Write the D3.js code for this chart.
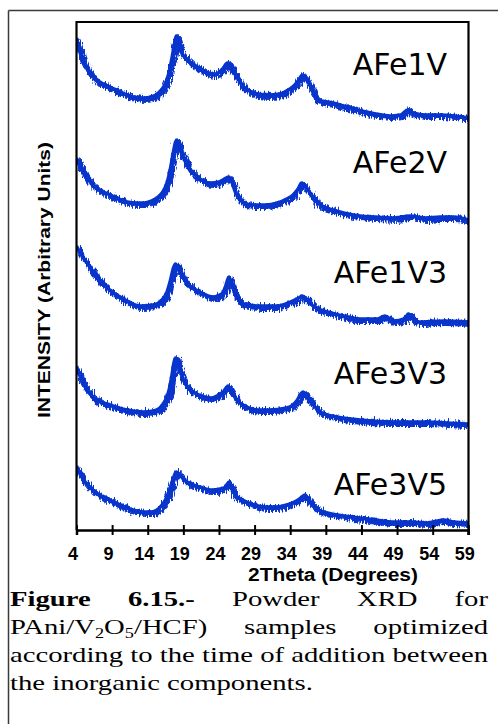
<!DOCTYPE html>
<html><head><meta charset="utf-8">
<script src="https://cdn.jsdelivr.net/npm/d3@7"></script>
<style>body{margin:0;background:#fff}svg{display:block}</style>
</head><body>
<svg id="chart" width="498" height="724"></svg>
<script>
// ---------------- DATA ----------------
const tickValues = [4, 9, 14, 19, 24, 29, 34, 39, 44, 49, 54, 59];
const seriesNames = ["AFe1V", "AFe2V", "AFe1V3", "AFe3V3", "AFe3V5"];

// 2-theta (degrees) and stacked intensity (arbitrary units) for each pattern
const theta1 = [4,4.6,5.4,6.5,7.5,9,10.5,12,13.5,14.5,15.5,16.3,16.9,17.4,17.8,18.0,18.3,18.7,19.5,20.5,21.5,22.5,23.5,24.5,25.2,25.6,26.0,26.6,27.3,28.3,29.5,31,32.5,33.5,34.5,35.2,35.7,36.2,36.7,37.3,38,40,42,44,46,48,49.5,50.5,51.3,53,55,57,59];
const afe1v  = [492,475,462,452,447,442,437,433,432,433,437,444,455,472,488,494,486,478,471,465,461,457,456,461,467,466,459,452,444,439,436,435,436,439,444,450,455,453,446,436,430,427,423,419,416,414,415,420,417,415,415,414,412];

const theta2 = [4,4.6,5.3,6.3,7.5,8.7,10,11.1,12.5,13.5,14.5,15.3,16,16.7,17.2,17.6,17.9,18.1,18.4,18.8,19.4,20,21,21.8,23,24,25,25.4,25.8,26.3,27,27.8,29,30.5,32.2,33.5,34.4,35.1,35.6,36.2,36.8,37.6,38.5,40,41.5,43.8,46,48.5,50.8,53,55,57,59];
const afe2v  = [372,362,354,345,339,335,331,328,327,327,329,332,337,347,362,378,388,390,383,376,367,360,353,349,347,348,352,353,348,338,330,326,325,325,327,331,335,341,347,343,337,329,324,320,317,314,313,312,314,312,313,313,310];

const theta3 = [4,4.6,5.5,6.3,7.7,9.2,11.1,12.9,14.8,16,16.7,17.2,17.6,17.9,18.3,18.8,19.5,20.5,21.3,23.2,24.4,24.9,25.4,25.8,26.2,26.8,27.4,29.8,32.2,34,35.2,35.7,36.3,37.2,39.2,41.5,43.8,46.2,47.3,48.5,50,50.6,51.3,52,55.5,59];
const afe1v3 = [284,276,267,258,246,237,229,224,225,230,238,250,262,266,261,254,247,241,238,233,236,243,253,246,237,230,226,224,224,228,232,234,231,224,218,214,211,211,214,209,211,216,210,208,209,208];

const theta4 = [4,4.6,5.5,6.3,7.5,8.7,11.1,13.4,14.8,15.7,16.5,17,17.4,17.7,17.9,18.2,18.6,19,19.7,20.4,21.5,22.8,24,24.6,25.3,25.7,26.5,27.9,29.5,31,33.5,34.9,35.5,35.8,36.3,36.8,37.5,38.2,40.6,43.8,48.5,53.2,56,59];
const afe3v3 = [164,152,140,133,128,125,120,118,119,122,130,140,155,168,172,167,158,150,142,138,134,132,135,138,144,139,130,123,120,120,122,129,136,138,134,130,123,118,113,110,108,108,107,106];

const theta5 = [4,4.5,5,6.3,7.5,8.7,11.1,13.4,14.5,15.3,16,16.7,17.2,17.6,18,18.4,19,19.5,21.3,23,24.2,24.9,25.4,25.8,26.2,27,27.9,29.5,30.7,32,33.5,35.1,35.8,36.1,36.6,37.2,38,39.2,41.5,43.8,46,48.5,51,53.2,55.5,57,59];
const afe3v5 = [64,56,50,40,34,30,22,18,18,20,25,33,43,52,58,56,51,48,43,40,41,43,48,42,36,31,28,24,23,23,25,30,34,35,30,24,20,17,14,12,10,8,8,7,10,8,7];

const captionLines = [
  [[{t:"Figure", b:true}], [{t:"6.15.-", b:true}], [{t:"Powder"}], [{t:"XRD"}], [{t:"for"}]],
  [[{t:"PAni/V"}, {t:"2", sub:true}, {t:"O"}, {t:"5", sub:true}, {t:"/HCF)"}], [{t:"samples"}], [{t:"optimized"}]],
  [[{t:"according"}], [{t:"to"}], [{t:"the"}], [{t:"time"}], [{t:"of"}], [{t:"addition"}], [{t:"between"}]],
  [[{t:"the inorganic components."}]]
];

// ---------------- LAYOUT ----------------
const W = 498, H = 724;
const plot = {left: 76.5, right: 468.5, top: 22, bottom: 530};
const labelBaselines = [75, 173, 283, 384, 495];
const lineColor = "#0735cc";

const svg = d3.select("#chart");
svg.append("rect").attr("width", W).attr("height", H).attr("fill", "#fff");

// texture filter that gives the measured trace its grainy look
const defs = svg.append("defs");
const f = defs.append("filter").attr("id", "grain")
  .attr("x", "-2%").attr("y", "-10%").attr("width", "104%").attr("height", "120%");
f.append("feTurbulence").attr("type", "turbulence").attr("baseFrequency", "0.7 0.08")
  .attr("numOctaves", 2).attr("seed", 4).attr("result", "t");
f.append("feDisplacementMap").attr("in", "SourceGraphic").attr("in2", "t")
  .attr("scale", 7).attr("xChannelSelector", "B").attr("yChannelSelector", "G");

defs.append("clipPath").attr("id", "clip").append("rect")
  .attr("x", plot.left).attr("y", plot.top)
  .attr("width", plot.right - plot.left).attr("height", plot.bottom - plot.top);

// outer figure frame (left and top edges visible)
svg.append("line").attr("x1", 8.5).attr("y1", H).attr("x2", 8.5).attr("y2", 10.5)
  .attr("stroke", "#3a3a3a").attr("stroke-width", 1.5);
svg.append("line").attr("x1", 8.5).attr("y1", 10.5).attr("x2", W).attr("y2", 10.5)
  .attr("stroke", "#3a3a3a").attr("stroke-width", 1.5);

const x = d3.scaleLinear().domain([4, 59]).range([plot.left, plot.right - 0.2]);
const y = d3.scaleLinear().domain([0, 508]).range([plot.bottom, plot.top]);

const series = [
  {name: seriesNames[0], th: theta1, v: afe1v},
  {name: seriesNames[1], th: theta2, v: afe2v},
  {name: seriesNames[2], th: theta3, v: afe1v3},
  {name: seriesNames[3], th: theta4, v: afe3v3},
  {name: seriesNames[4], th: theta5, v: afe3v5}
];

const line = d3.line().x(d => x(d[0])).y(d => y(d[1])).curve(d3.curveMonotoneX);
const g = svg.append("g").attr("clip-path", "url(#clip)");
series.forEach(s => {
  const pts = s.th.map((t, i) => [t, s.v[i]]);
  g.append("path").attr("d", line(pts)).attr("fill", "none")
    .attr("stroke", lineColor).attr("stroke-width", 6)
    .attr("stroke-linejoin", "round").attr("filter", "url(#grain)");
  g.append("path").attr("d", line(pts)).attr("fill", "none")
    .attr("stroke", lineColor).attr("stroke-width", 3.5)
    .attr("stroke-linejoin", "round");
});

// plot frame
const frame = svg.append("g").attr("stroke", "#000").attr("stroke-width", 2.2);
frame.append("line").attr("x1", plot.left).attr("y1", plot.top).attr("x2", plot.right).attr("y2", plot.top);
frame.append("line").attr("x1", plot.left).attr("y1", plot.top - 1).attr("x2", plot.left).attr("y2", plot.bottom);
frame.append("line").attr("x1", plot.right).attr("y1", plot.top - 1).attr("x2", plot.right).attr("y2", plot.bottom + 5);

// x axis
const axis = d3.axisBottom(x).tickValues(tickValues).tickSizeOuter(0).tickSize(5);
const ax = svg.append("g").attr("transform", `translate(0,${plot.bottom})`).call(axis);
ax.select(".domain").attr("stroke", "#000").attr("stroke-width", 2.5);
ax.selectAll(".tick line").attr("y1", -5).attr("y2", 5).attr("stroke", "#000").attr("stroke-width", 2);
ax.selectAll(".tick text").attr("y", 30).attr("dy", 0).attr("dx", -4)
  .attr("font-family", "Liberation Sans, Arial, sans-serif")
  .attr("font-weight", "bold").attr("font-size", 18).attr("fill", "#000");

svg.append("text").attr("x", 333).attr("y", 581).attr("text-anchor", "middle")
  .attr("font-family", "Liberation Sans, Arial, sans-serif").attr("font-weight", "bold")
  .attr("font-size", 18).attr("textLength", 170).attr("lengthAdjust", "spacingAndGlyphs")
  .text("2Theta (Degrees)");

svg.append("text").attr("transform", "translate(49.5,280) rotate(-90)")
  .attr("text-anchor", "middle")
  .attr("font-family", "Liberation Sans, Arial, sans-serif").attr("font-weight", "bold")
  .attr("font-size", 17).attr("textLength", 276).attr("lengthAdjust", "spacingAndGlyphs")
  .text("INTENSITY (Arbitrary Units)");

// series labels
series.forEach((s, i) => {
  svg.append("text").attr("x", 447).attr("y", labelBaselines[i])
    .attr("text-anchor", "end")
    .attr("font-family", "'Comic Sans MS', 'DejaVu Sans', sans-serif")
    .attr("font-size", 30).attr("fill", "#000").text(s.name);
});

// caption (justified, text slightly widened like the source)
const capBaselines = [606, 634, 662, 690];
const capX0 = 10, capX1 = 488;
const capFont = "'Liberation Serif', 'Times New Roman', serif";
const probe = svg.append("text").attr("font-family", capFont).attr("font-size", 22)
  .text("according to the time of addition between");
const sx = (capX1 - capX0) / probe.node().getComputedTextLength();
probe.remove();
const cap = svg.append("g").attr("transform", `translate(${capX0},0) scale(${sx},1)`);
const innerW = (capX1 - capX0) / sx;
captionLines.forEach((words, li) => {
  const nodes = words.map(parts => {
    const t = cap.append("text").attr("y", capBaselines[li])
      .attr("font-family", capFont).attr("font-size", 22).attr("fill", "#000");
    parts.forEach(p => {
      const ts = t.append("tspan").text(p.t);
      if (p.b) ts.attr("font-weight", "bold");
      if (p.sub) ts.attr("font-size", 14).attr("baseline-shift", "-4");
    });
    return t;
  });
  const widths = nodes.map(n => n.node().getComputedTextLength());
  const total = d3.sum(widths);
  const gap = words.length > 1 && li < captionLines.length - 1
    ? (innerW - total) / (words.length - 1) : 0;
  let cx = 0;
  nodes.forEach((n, i) => { n.attr("x", cx); cx += widths[i] + gap; });
});
</script>
</body></html>
